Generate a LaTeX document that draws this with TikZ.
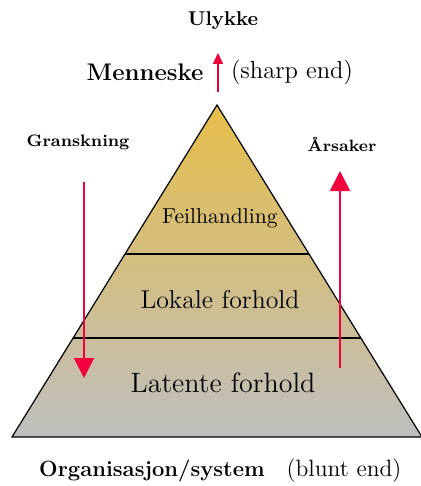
\documentclass[tikz,border=0pt]{standalone}
\usetikzlibrary{arrows.meta}
\definecolor{arrowred}{RGB}{240,0,60}
\definecolor{pyrtop}{RGB}{230,190,75}
\definecolor{pyrmid}{RGB}{214,194,150}
\definecolor{pyrbot}{RGB}{190,190,190}

\begin{document}
\begin{tikzpicture}[
    x=0.5pt, y=-0.5pt,
    level/.style={inner sep=0pt},
    head/.style={inner sep=0pt, font=\bfseries},
    side/.style={inner sep=0pt},
    flow/.style={-{Triangle[width=10pt,length=10pt]}, arrowred, line width=1pt},
    small flow/.style={-{Triangle[width=5pt,length=5.5pt]}, arrowred, line width=0.8pt}
]
\useasboundingbox (0,0) rectangle (420,486);
\coordinate (apex) at (217,105);
\coordinate (baseL) at (12,437);
\coordinate (baseR) at (422,437);
\shade[top color=pyrtop, middle color=pyrmid, bottom color=pyrbot] (apex) -- (baseL) -- (baseR) -- cycle;
\draw[line width=0.6pt] (apex) -- (baseL) -- (baseR) -- cycle;
\draw[line width=0.8pt] (125,254) -- (309,254);
\draw[line width=0.8pt] (73,338) -- (361,338);
\node[level, font=\fontsize{10.8}{12}\selectfont] (feil) at (220,218) {Feilhandling};
\node[level, font=\fontsize{12.9}{15}\selectfont] (lokale) at (220,300) {Lokale forhold};
\node[level, font=\fontsize{14}{16}\selectfont] (latente) at (223,383) {Latente forhold};
\node[head, font=\fontsize{10}{12}\selectfont\bfseries] (ulykke) at (223,21) {Ulykke};
\node[head, font=\fontsize{12}{14}\selectfont\bfseries] (menneske) at (145,72) {Menneske};
\node[side, font=\fontsize{12.3}{14}\selectfont] (sharp) at (292,72) {(sharp end)};
\node[head, font=\fontsize{8.3}{10}\selectfont\bfseries] (gransk) at (78,142) {Granskning};
\node[head, font=\fontsize{8.2}{10}\selectfont\bfseries] (aarsak) at (342,144) {Årsaker};
\node[head, font=\fontsize{11}{13}\selectfont\bfseries] (org) at (152,471) {Organisasjon/system};
\node[side, font=\fontsize{11.8}{14}\selectfont] (blunt) at (344,471) {(blunt end)};
\coordinate (topS) at (218,92);
\coordinate (topE) at (218,53);
\coordinate (leftS) at (84,182);
\coordinate (leftE) at (84,378);
\coordinate (rightS) at (340,368);
\coordinate (rightE) at (340,171);
\draw[small flow] (topS) -- (topE);
\draw[flow] (leftS) -- (leftE);
\draw[flow] (rightS) -- (rightE);
\end{tikzpicture}
\end{document}
